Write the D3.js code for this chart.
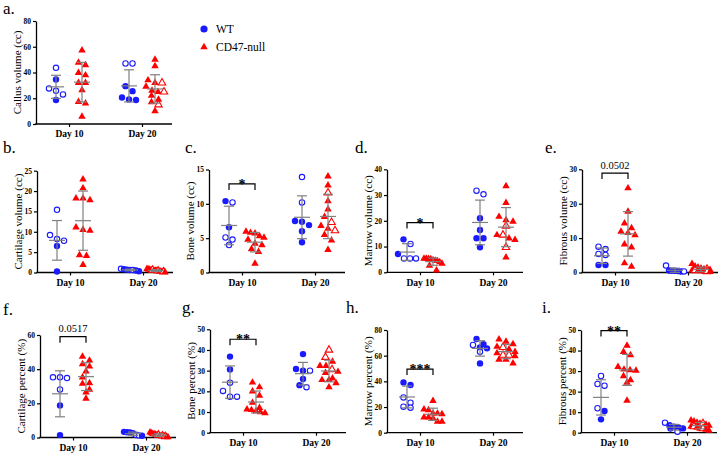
<!DOCTYPE html>
<html><head><meta charset="utf-8">
<script src="https://cdn.jsdelivr.net/npm/d3@7"></script>
<style>
body{margin:0;background:#fff}
svg{display:block}
text{font-family:"Liberation Serif","Times New Roman",serif;fill:#000}
</style>
</head><body>
<svg id="chart" width="720" height="454"></svg>
<script>
// ---------- categories ----------
const days = ["Day 10", "Day 20"];
const groups = ["WT", "CD47-null"];

// ---------- a. Callus volume (cc) ----------
const callusTicks = [0, 20, 40, 60, 80];
const callus_WT_d10 = [34.6, 18.6];
const callus_WT_d10_open = [43.6, 27.6, 25.8, 23.0];
const callus_KO_d10 = [57.3, 47.7, 45.7, 39.7, 37.9, 32.0, 32.0, 26.3, 17.3, 16.0, 5.7];
const callus_KO_d10_open = [];
const callus_WT_d20 = [29.4, 25.5, 20.6, 19.1, 18.6];
const callus_WT_d20_open = [47.0, 47.0];
const callus_KO_d20 = [50, 45, 34, 32, 29, 26, 25, 22, 19, 17, 10];
const callus_KO_d20_open = [32, 25, 15];

// ---------- b. Cartilage volume (cc) ----------
const cartVolTicks = [0, 5, 10, 15, 20, 25];
const cartVol_WT_d10 = [6.5, 0.25];
const cartVol_WT_d10_open = [15.4, 9.2, 8.2, 7.8];
const cartVol_KO_d10 = [22.9, 20.7, 18.2, 18.2, 17.8, 11.1, 10.5, 10.3, 4.3, 4.1, 1.9];
const cartVol_KO_d10_open = [];
const cartVol_WT_d20 = [0.8, 0.7, 0.6, 0.5, 0.3];
const cartVol_WT_d20_open = [0.9, 0.6];
const cartVol_KO_d20 = [0.9, 0.8, 0.7, 0.6, 0.5, 0.5, 0.4, 0.3, 0.3, 0.2, 0.1];
const cartVol_KO_d20_open = [0.6, 0.4, 0.2];

// ---------- c. Bone volume (cc) ----------
const boneVolTicks = [0, 5, 10, 15];
const boneVol_WT_d10 = [10.4, 6.6];
const boneVol_WT_d10_open = [10.2, 5.1, 4.8, 4.0];
const boneVol_KO_d10 = [5.95, 5.8, 5.7, 5.3, 5.1, 4.8, 4.2, 4.0, 3.4, 3.0, 1.3];
const boneVol_KO_d10_open = [];
const boneVol_WT_d20 = [7.5, 7.4, 6.9, 6.0, 4.4];
const boneVol_WT_d20_open = [13.9, 10.2];
const boneVol_KO_d20 = [14.0, 12.7, 10.4, 9.2, 8.1, 6.8, 6.4, 5.5, 4.7, 3.3];
const boneVol_KO_d20_open = [11.6, 7.3, 6.1];

// ---------- d. Marrow volume (cc) ----------
const marrVolTicks = [0, 10, 20, 30, 40];
const marrVol_WT_d10 = [12.8, 7.1];
const marrVol_WT_d10_open = [11.0, 5.4, 5.4, 5.4];
const marrVol_KO_d10 = [5.3, 5.3, 5.2, 5.1, 4.8, 4.6, 4.4, 4.0, 3.4, 2.6, 0.8];
const marrVol_KO_d10_open = [];
const marrVol_WT_d20 = [21.0, 16.4, 13.2, 13.2, 9.7];
const marrVol_WT_d20_open = [31.7, 30.3];
const marrVol_KO_d20 = [33.5, 27.0, 21.6, 20.3, 19.7, 14.5, 13.2, 12.6, 5.8];
const marrVol_KO_d20_open = [18.0, 14.5, 9.7];

// ---------- e. Fibrous volume (cc) ----------
const fibVolTicks = [0, 10, 20, 30];
const fibVol_WT_d10 = [2.2, 2.2];
const fibVol_WT_d10_open = [7.5, 6.8, 5.4, 5.1];
const fibVol_KO_d10 = [24.5, 17.7, 14.3, 12.9, 11.9, 11.5, 10.9, 8.2, 7.3, 2.7, 1.7];
const fibVol_KO_d10_open = [];
const fibVol_WT_d20 = [0.6, 0.5, 0.5, 0.4, 0.3];
const fibVol_WT_d20_open = [2.0, 0.3];
const fibVol_KO_d20 = [2.5, 1.8, 1.5, 1.2, 1.0, 0.8, 0.6, 0.5, 0.4, 0.3, 0.2];
const fibVol_KO_d20_open = [1.0, 0.6, 0.3];

// ---------- f. Cartilage percent (%) ----------
const cartPctTicks = [0, 20, 40, 60];
const cartPct_WT_d10 = [18.8, 1.4];
const cartPct_WT_d10_open = [35.2, 35.2, 34.8, 28.1];
const cartPct_KO_d10 = [47.4, 45.1, 43.0, 41.6, 38.7, 35.2, 31.9, 31.5, 28.1, 26.5, 22.8];
const cartPct_KO_d10_open = [];
const cartPct_WT_d20 = [3.3, 3.1, 2.9, 2.5, 1.0];
const cartPct_WT_d20_open = [1.5, 1.2];
const cartPct_KO_d20 = [3.0, 2.6, 2.2, 2.0, 1.8, 1.5, 1.2, 1.0, 0.8, 0.5, 0.3];
const cartPct_KO_d20_open = [1.5, 1.0, 0.6];

// ---------- g. Bone percent (%) ----------
const bonePctTicks = [0, 10, 20, 30, 40, 50];
const bonePct_WT_d10 = [36.8, 30.6];
const bonePct_WT_d10_open = [24.2, 20.2, 17.4, 17.4];
const bonePct_KO_d10 = [24.3, 22.0, 20.0, 18.0, 14.5, 12.0, 11.3, 11.0, 10.5, 10.0, 9.5];
const bonePct_KO_d10_open = [];
const bonePct_WT_d20 = [38.0, 30.8, 30.0, 26.0, 23.0];
const bonePct_WT_d20_open = [30.0, 22.0];
const bonePct_KO_d20 = [34.4, 32.3, 32.3, 29.5, 29.0, 26.3, 25.5, 25.5, 24.0, 22.0];
const bonePct_KO_d20_open = [40.0, 36.5, 30.5];

// ---------- h. Marrow percent (%) ----------
const marrPctTicks = [0, 20, 40, 60, 80];
const marrPct_WT_d10 = [39.2, 37.1];
const marrPct_WT_d10_open = [27.5, 23.4, 20.3, 19.5];
const marrPct_KO_d10 = [24.9, 18.2, 17.7, 15.0, 15.0, 14.5, 12.0, 12.0, 11.2, 8.6, 8.6];
const marrPct_KO_d10_open = [];
const marrPct_WT_d20 = [73.0, 69.0, 66.5, 65.7, 54.0];
const marrPct_WT_d20_open = [68.3, 63.0];
const marrPct_KO_d20 = [72.7, 71.0, 69.0, 67.0, 65.0, 63.0, 62.0, 59.7, 57.0, 57.0, 54.0];
const marrPct_KO_d20_open = [66.5, 60.5, 60.5];

// ---------- i. Fibrous percent (%) ----------
const fibPctTicks = [0, 10, 20, 30, 40, 50];
const fibPct_WT_d10 = [10.6, 6.5];
const fibPct_WT_d10_open = [27.6, 23.7, 22.9, 11.9];
const fibPct_KO_d10 = [42.4, 39.4, 37.8, 32.1, 30.8, 30.5, 30.2, 27.6, 25.6, 24.4, 15.6];
const fibPct_KO_d10_open = [];
const fibPct_WT_d20 = [3.7, 2.9, 2.5, 2.1, 2.0];
const fibPct_WT_d20_open = [4.9, 0.5];
const fibPct_KO_d20 = [6.0, 5.5, 5.0, 4.5, 4.0, 3.5, 3.0, 2.5, 2.0, 1.5, 1.0];
const fibPct_KO_d20_open = [4.5, 3.0, 2.0];

// ---------- significance annotations (Day 10 comparison) ----------
const sigLabels = {c: "*", d: "*", e: "0.0502", f: "0.0517", g: "**", h: "***", i: "**"};

// ---------- layout ----------
const colorWT = "#1a1aff", colorKO = "#ff0000", barColor = "#808080";
const svg = d3.select("#chart");

function series(wt10, wt10o, ko10, ko10o, wt20, wt20o, ko20, ko20o) {
  return [
    {day: days[0], group: groups[0], filled: wt10, open: wt10o},
    {day: days[0], group: groups[1], filled: ko10, open: ko10o},
    {day: days[1], group: groups[0], filled: wt20, open: wt20o},
    {day: days[1], group: groups[1], filled: ko20, open: ko20o}
  ];
}

const panels = [
  {id:"a", ylab:"Callus volume (cc)", ticks:callusTicks, x0:36, y0:124, y1:21, lx:3, ly:14,
   s:series(callus_WT_d10,callus_WT_d10_open,callus_KO_d10,callus_KO_d10_open,callus_WT_d20,callus_WT_d20_open,callus_KO_d20,callus_KO_d20_open)},
  {id:"b", ylab:"Cartilage volume (cc)", ticks:cartVolTicks, x0:37, y0:272.5, y1:170.7, lx:3, ly:153,
   s:series(cartVol_WT_d10,cartVol_WT_d10_open,cartVol_KO_d10,cartVol_KO_d10_open,cartVol_WT_d20,cartVol_WT_d20_open,cartVol_KO_d20,cartVol_KO_d20_open)},
  {id:"c", ylab:"Bone volume (cc)", ticks:boneVolTicks, x0:209, y0:272.5, y1:169.5, lx:185, ly:153, bracket:12.9,
   s:series(boneVol_WT_d10,boneVol_WT_d10_open,boneVol_KO_d10,boneVol_KO_d10_open,boneVol_WT_d20,boneVol_WT_d20_open,boneVol_KO_d20,boneVol_KO_d20_open)},
  {id:"d", ylab:"Marrow volume (cc)", ticks:marrVolTicks, x0:387, y0:272.3, y1:169.3, lx:355, ly:153, bracket:19.3,
   s:series(marrVol_WT_d10,marrVol_WT_d10_open,marrVol_KO_d10,marrVol_KO_d10_open,marrVol_WT_d20,marrVol_WT_d20_open,marrVol_KO_d20,marrVol_KO_d20_open)},
  {id:"e", ylab:"Fibrous volume (cc)", ticks:fibVolTicks, x0:582, y0:272.5, y1:169.3, lx:545, ly:153, bracket:28.9,
   s:series(fibVol_WT_d10,fibVol_WT_d10_open,fibVol_KO_d10,fibVol_KO_d10_open,fibVol_WT_d20,fibVol_WT_d20_open,fibVol_KO_d20,fibVol_KO_d20_open)},
  {id:"f", ylab:"Cartilage percent (%)", ticks:cartPctTicks, x0:40, y0:437.5, y1:335, lx:3, ly:315, bracket:59,
   s:series(cartPct_WT_d10,cartPct_WT_d10_open,cartPct_KO_d10,cartPct_KO_d10_open,cartPct_WT_d20,cartPct_WT_d20_open,cartPct_KO_d20,cartPct_KO_d20_open)},
  {id:"g", ylab:"Bone percent (%)", ticks:bonePctTicks, x0:210, y0:432.7, y1:329.3, lx:182, ly:313, bracket:45.2,
   s:series(bonePct_WT_d10,bonePct_WT_d10_open,bonePct_KO_d10,bonePct_KO_d10_open,bonePct_WT_d20,bonePct_WT_d20_open,bonePct_KO_d20,bonePct_KO_d20_open)},
  {id:"h", ylab:"Marrow percent (%)", ticks:marrPctTicks, x0:387, y0:432.7, y1:330, lx:346, ly:313, bracket:49.6,
   s:series(marrPct_WT_d10,marrPct_WT_d10_open,marrPct_KO_d10,marrPct_KO_d10_open,marrPct_WT_d20,marrPct_WT_d20_open,marrPct_KO_d20,marrPct_KO_d20_open)},
  {id:"i", ylab:"Fibrous percent (%)", ticks:fibPctTicks, x0:581, y0:432.7, y1:330, lx:542, ly:313, bracket:49.7,
   s:series(fibPct_WT_d10,fibPct_WT_d10_open,fibPct_KO_d10,fibPct_KO_d10_open,fibPct_WT_d20,fibPct_WT_d20_open,fibPct_KO_d20,fibPct_KO_d20_open)}
];

const triSym = d3.symbol().type(d3.symbolTriangle).size(24);
const cirR = 3.2;
const D = 7, MAXW = 18;

// beeswarm-like horizontal spread (rows of near-equal values)
function swarm(points, y) {
  const pts = points.slice().sort((a, b) => b.v - a.v);
  pts.forEach(p => p.py = y(p.v));
  const rows = [];
  pts.forEach(p => {
    const r = rows[rows.length - 1];
    if (r && Math.abs(p.py - r[0].py) < D * 0.85) r.push(p); else rows.push([p]);
  });
  rows.forEach(r => {
    const k = r.length;
    const sp = k > 1 ? Math.min(D, MAXW / (k - 1)) : 0;
    r.forEach((p, i) => p.dx = (i - (k - 1) / 2) * sp);
  });
  return pts;
}

panels.forEach(P => {
  const g = svg.append("g");
  const ymax = d3.max(P.ticks);
  const y = d3.scaleLinear().domain([0, ymax]).range([P.y0, P.y1]);
  const x = d3.scalePoint().domain(days).range([P.x0 + 33, P.x0 + 106]);
  const gx = d3.scalePoint().domain(groups).range([-13, 13]);

  // panel letter
  svg.append("text").attr("x", P.lx).attr("y", P.ly).attr("font-size", 17).text(P.id + ".");

  // y axis
  const ya = g.append("g").attr("transform", `translate(${P.x0},0)`)
    .call(d3.axisLeft(y).tickValues(P.ticks).tickSize(3).tickSizeOuter(0).tickPadding(2).tickFormat(d3.format("d")));
  ya.select(".domain").attr("stroke", "#000").attr("stroke-width", 1.3);
  ya.selectAll(".tick line").attr("stroke", "#000").attr("stroke-width", 1.2);
  ya.selectAll(".tick text").attr("font-family", "Liberation Serif").attr("font-weight", "bold").attr("font-size", 7.5);

  // x axis
  const xa = g.append("g").attr("transform", `translate(0,${P.y0})`)
    .call(d3.axisBottom(x).tickSize(3).tickSizeOuter(0).tickPadding(3.5));
  xa.select(".domain").remove();
  xa.selectAll(".tick line").attr("stroke", "#000").attr("stroke-width", 1.2);
  xa.selectAll(".tick text").attr("font-family", "Liberation Serif").attr("font-weight", "bold").attr("font-size", 9.5);
  g.append("line").attr("x1", P.x0 - 0.65).attr("x2", P.x0 + 136).attr("y1", P.y0).attr("y2", P.y0)
    .attr("stroke", "#000").attr("stroke-width", 1.3);

  // y label
  g.append("text")
    .attr("transform", `translate(${P.x0 - 19},${(P.y0 + P.y1) / 2}) rotate(-90)`)
    .attr("text-anchor", "middle").attr("dy", "0.35em").attr("font-size", 11).text(P.ylab);

  // points
  P.s.forEach(S => {
    const cx = x(S.day) + gx(S.group);
    const isWT = S.group === groups[0];
    const col = isWT ? colorWT : colorKO;
    const pts = swarm(S.filled.map(v => ({v, open:false})).concat(S.open.map(v => ({v, open:true}))), y);
    pts.forEach(p => {
      if (isWT) {
        g.append("circle").attr("cx", cx + p.dx).attr("cy", p.py).attr("r", p.open ? cirR - 0.5 : cirR)
          .attr("fill", p.open ? "#fff" : col).attr("stroke", col).attr("stroke-width", p.open ? 1.1 : 0);
      } else {
        g.append("path").attr("d", triSym).attr("transform", `translate(${cx + p.dx},${p.py})`)
          .attr("fill", p.open ? "#fff" : col).attr("stroke", col).attr("stroke-width", p.open ? 1.1 : 0);
      }
    });
    // mean ± SD
    const all = S.filled.concat(S.open);
    const m = d3.mean(all), sd = d3.deviation(all);
    const bar = g.append("g").attr("stroke", barColor).attr("stroke-width", 1.2).attr("fill", "none");
    bar.append("line").attr("x1", cx).attr("x2", cx).attr("y1", y(m + sd)).attr("y2", y(Math.max(m - sd, 0)));
    bar.append("line").attr("x1", cx - 8).attr("x2", cx + 8).attr("y1", y(m)).attr("y2", y(m));
    bar.append("line").attr("x1", cx - 5).attr("x2", cx + 5).attr("y1", y(m + sd)).attr("y2", y(m + sd));
    if (m - sd > 0) bar.append("line").attr("x1", cx - 5).attr("x2", cx + 5).attr("y1", y(m - sd)).attr("y2", y(m - sd));
  });

  // significance bracket
  if (P.bracket !== undefined) {
    const xa1 = x(days[0]) + gx(groups[0]), xa2 = x(days[0]) + gx(groups[1]);
    const by = y(P.bracket);
    g.append("path").attr("d", `M${xa1},${by + 6}V${by}H${xa2}V${by + 6}`)
      .attr("fill", "none").attr("stroke", "#000").attr("stroke-width", 1.2);
    const lab = sigLabels[P.id];
    const star = lab.startsWith("*");
    g.append("text").attr("x", (xa1 + xa2) / 2).attr("y", star ? by + 5 : by - 4.5)
      .attr("text-anchor", "middle").attr("font-size", star ? 14 : 10.5)
      .attr("font-weight", star ? "bold" : "normal").text(lab);
  }
});

// legend
const leg = svg.append("g");
leg.append("circle").attr("cx", 204).attr("cy", 29).attr("r", 3.6).attr("fill", colorWT);
leg.append("path").attr("d", triSym).attr("transform", "translate(204,47)").attr("fill", colorKO);
leg.append("text").attr("x", 216).attr("y", 32.5).attr("font-size", 11.5).text(groups[0]);
leg.append("text").attr("x", 216).attr("y", 51).attr("font-size", 11.5).text(groups[1]);
</script>
</body></html>
